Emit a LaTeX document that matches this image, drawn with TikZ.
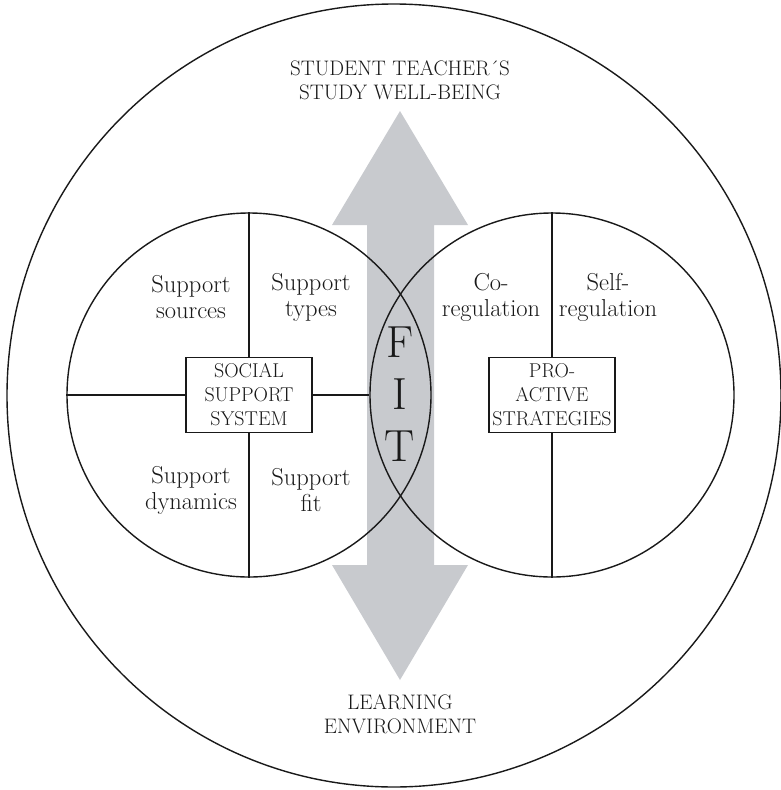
\documentclass[tikz,border=0pt]{standalone}
\usetikzlibrary{shapes.geometric}
\definecolor{arrowgray}{RGB}{200,202,206}
\definecolor{ink}{RGB}{25,25,25}
\begin{document}
\begin{tikzpicture}[x=1pt,y=-1pt,
  ring/.style={circle,draw=ink,line width=1.4pt,inner sep=0pt},
  labelbox/.style={draw=ink,line width=1.4pt,fill=white,minimum width=126pt,minimum height=75pt,inner sep=1pt,align=center,font=\fontsize{20}{24}\selectfont,text=ink},
  capstext/.style={align=center,font=\fontsize{21}{24}\selectfont,text=ink},
  lowtext/.style={align=center,font=\fontsize{24.5}{26}\selectfont,text=ink},
  sep/.style={draw=ink,line width=1.4pt}]
\useasboundingbox (0,0) rectangle (780,790);
% double arrow
\fill[arrowgray] (400,111) -- (468,225) -- (434,225) -- (434,565) -- (468,565) -- (400,680) -- (332,565) -- (367,565) -- (367,225) -- (332,225) -- cycle;
% outer boundary
\node[ellipse,draw=ink,line width=1.4pt,inner sep=0pt,minimum width=774pt,minimum height=783pt] (outer) at (394,395.5) {};
% two circles
\node[ring,minimum size=364pt] (lc) at (249,395) {};
\node[ring,minimum size=364pt] (rc) at (552,395) {};
% boxes
\node[labelbox] (ssbox) at (249,395) {SOCIAL\\SUPPORT\\SYSTEM};
\node[labelbox] (pabox) at (552,395) {PRO-\\ACTIVE\\STRATEGIES};
% separators
\draw[sep] (lc.north) -- (ssbox.north);
\draw[sep] (ssbox.south) -- (lc.south);
\draw[sep] (lc.west) -- (ssbox.west);
\draw[sep] (ssbox.east) -- (rc.west);
\draw[sep] (rc.north) -- (pabox.north);
\draw[sep] (pabox.south) -- (rc.south);
% texts
\node[capstext] (top) at (400,80) {STUDENT TEACHER\textasciiacute S\\STUDY WELL-BEING};
\node[capstext] (bottom) at (400,714.5) {LEARNING\\ENVIRONMENT};
\node[align=center,font=\fontsize{45}{52}\selectfont,text=ink] (fit) at (400,394) {F\\I\\T};
\node[lowtext] (ssrc) at (191,297) {Support\\sources};
\node[lowtext] (styp) at (311,297) {Support\\types};
\node[lowtext] (sdyn) at (191,490) {Support\\dynamics};
\node[lowtext] (sfit) at (311,490) {Support\\fit};
\node[lowtext] (coreg) at (491,297) {Co-\\regulation};
\node[lowtext] (selfreg) at (608,297) {Self-\\regulation};
\end{tikzpicture}
\end{document}
